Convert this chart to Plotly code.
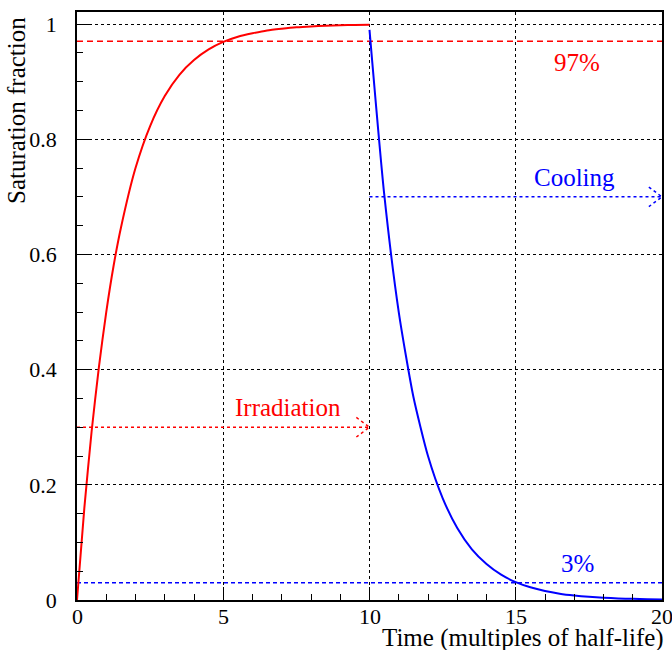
import plotly.graph_objects as go

# --- data ---
irr_t = [0, 0.25, 0.5, 0.75, 1, 1.25, 1.5, 2, 2.5, 3, 3.5, 4, 4.5, 5, 5.5, 6, 6.5, 7, 7.5, 8, 8.5, 9, 9.5, 10]
irr_y = [0, 0.159, 0.293, 0.405, 0.5, 0.58, 0.646, 0.75, 0.823, 0.875, 0.912, 0.9375, 0.956, 0.969, 0.978,
         0.984, 0.989, 0.992, 0.9945, 0.996, 0.997, 0.998, 0.9986, 0.999]
cool_t = [10, 10.5, 11, 11.5, 12, 12.5, 13, 13.5, 14, 14.5, 15, 15.5, 16, 16.5, 17, 17.5, 18, 18.5, 19, 19.5, 20]
cool_y = [0.99, 0.706, 0.5, 0.353, 0.25, 0.177, 0.125, 0.088, 0.0625, 0.044, 0.031, 0.022, 0.0156, 0.011,
          0.0078, 0.0055, 0.0039, 0.0028, 0.002, 0.0014, 0.001]

level_hi = 0.97
level_lo = 0.03
irr_arrow = dict(x0=0, x1=10, y=0.3)
cool_arrow = dict(x0=10, x1=20, y=0.7)

x_ticks = [0, 5, 10, 15, 20]
x_tick_text = ["0", "5", "10", "15", "20"]
y_ticks = [0, 0.2, 0.4, 0.6, 0.8, 1]
y_tick_text = ["0", "0.2", "0.4", "0.6", "0.8", "1"]

RED = "#ff0000"
BLUE = "#0000ff"
FONT = "Liberation Serif, Times New Roman, DejaVu Serif, serif"

fig = go.Figure()

fig.add_trace(go.Scatter(x=[0, 20], y=[level_hi, level_hi], mode="lines",
                         line=dict(color=RED, width=1.5, dash="6px,4px")))
fig.add_trace(go.Scatter(x=[0, 20], y=[level_lo, level_lo], mode="lines",
                         line=dict(color=BLUE, width=1.5, dash="4px,3px")))

def arrow(a, color):
    hx, hy = 0.45, 0.017
    fig.add_trace(go.Scatter(x=[a["x0"], a["x1"]], y=[a["y"], a["y"]], mode="lines",
                             line=dict(color=color, width=1.5, dash="3px,3px")))
    fig.add_trace(go.Scatter(x=[a["x1"] - hx, a["x1"], a["x1"] - hx],
                             y=[a["y"] + hy, a["y"], a["y"] - hy], mode="lines",
                             line=dict(color=color, width=1.5, dash="3px,3px")))

arrow(irr_arrow, RED)
arrow(cool_arrow, BLUE)

fig.add_trace(go.Scatter(x=irr_t, y=irr_y, mode="lines",
                         line=dict(color=RED, width=2, shape="spline", smoothing=0.6)))
fig.add_trace(go.Scatter(x=cool_t, y=cool_y, mode="lines",
                         line=dict(color=BLUE, width=2, shape="spline", smoothing=0.6)))

ann_font = dict(family=FONT, size=25)
fig.add_annotation(x=17.1, y=0.934, text="97%", showarrow=False, font=dict(color=RED, **ann_font))
fig.add_annotation(x=7.2, y=0.334, text="Irradiation", showarrow=False, font=dict(color=RED, **ann_font))
fig.add_annotation(x=17.0, y=0.734, text="Cooling", showarrow=False, font=dict(color=BLUE, **ann_font))
fig.add_annotation(x=17.1, y=0.064, text="3%", showarrow=False, font=dict(color=BLUE, **ann_font))

# x tick labels drawn as annotations so the last one is not dropped at the page edge
for xv, txt in zip(x_ticks, x_tick_text):
    fig.add_annotation(x=xv, xref="x", y=0, yref="paper", yshift=-3, yanchor="top", xanchor="center",
                       text=txt, showarrow=False, borderpad=0,
                       font=dict(family=FONT, size=22, color="black"))

# axis titles (ROOT style: at the axis ends)
fig.add_annotation(xref="paper", yref="paper", x=1.0, xshift=4, y=0, yshift=-22, xanchor="right", yanchor="top",
                   text="Time (multiples of half-life)", showarrow=False,
                   font=dict(family=FONT, size=25, color="black"))
fig.add_annotation(xref="paper", yref="paper", x=0, xshift=-76, y=1.0, yshift=-3, xanchor="left", yanchor="top",
                   text="Saturation fraction", textangle=-90, showarrow=False,
                   font=dict(family=FONT, size=25, color="black"))

fig.update_layout(
    width=672, height=650,
    margin=dict(l=77, r=10, t=12, b=50, autoexpand=False),
    paper_bgcolor="white", plot_bgcolor="white",
    showlegend=False,
    font=dict(family=FONT, size=22, color="black"),
)
fig.update_xaxes(range=[0, 20], tickvals=x_ticks, ticks="inside", ticklen=13, tickwidth=1, tickcolor="black",
                 minor=dict(dtick=1, ticks="inside", ticklen=6, tickcolor="black", showgrid=False),
                 showgrid=True, gridcolor="black", griddash="dot", gridwidth=1,
                 showline=True, linecolor="black", linewidth=1.5, mirror=True, automargin=False,
                 zeroline=False, showticklabels=False)
fig.update_yaxes(range=[0, 1.021], tickvals=y_ticks, ticktext=y_tick_text, ticks="inside", ticklen=13,
                 tickwidth=1, tickcolor="black", automargin=False,
                 minor=dict(dtick=0.05, ticks="inside", ticklen=6, tickcolor="black", showgrid=False),
                 showgrid=True, gridcolor="black", griddash="dot", gridwidth=1,
                 showline=True, linecolor="black", linewidth=1.5, mirror=True,
                 zeroline=False, ticklabelstandoff=14, tickfont=dict(family=FONT, size=22))

fig.write_html("out.html")
